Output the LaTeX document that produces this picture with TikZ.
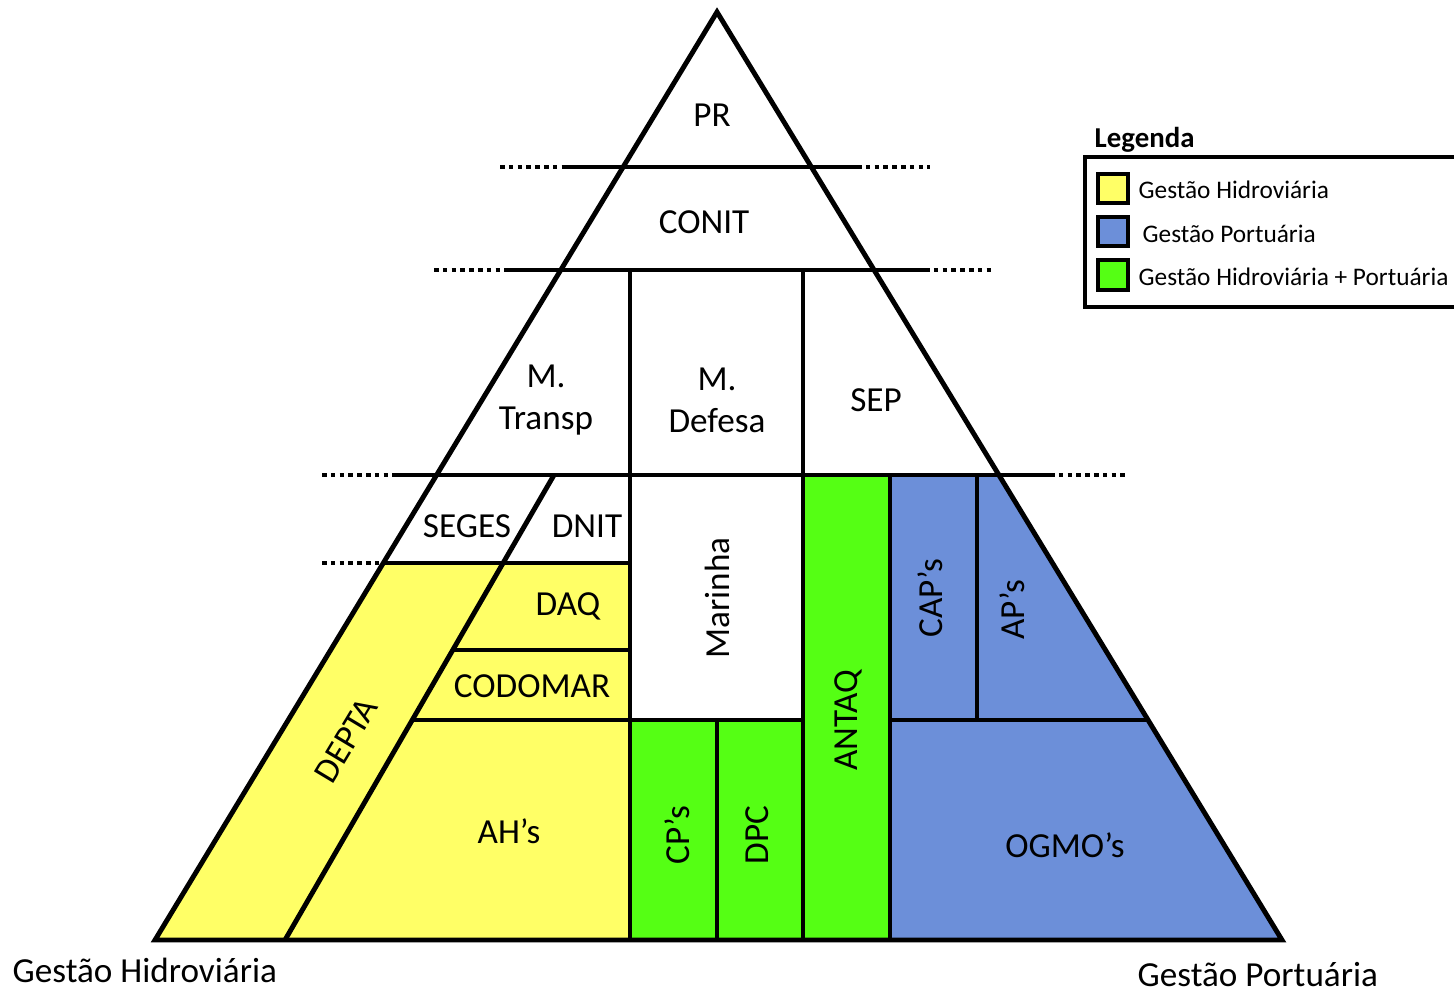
\documentclass[tikz,border=0pt]{standalone}
\usepackage{fontspec}
\setmainfont{Carlito}
\definecolor{hidro}{RGB}{255,255,102}
\definecolor{porto}{RGB}{108,143,217}
\definecolor{ambos}{RGB}{85,255,20}
\tikzset{
	lin/.style={line width=1.4pt},
	dotl/.style={line width=1.4pt, dash pattern=on 1.3pt off 1.2pt},
	lbl/.style={font=\fontsize{10}{12}\selectfont, align=center, inner sep=0pt},
	leg/.style={font=\fontsize{7.2}{9}\selectfont, anchor=west, inner sep=0pt},
	swatch/.style={draw, line width=1pt},
}
\begin{document}
\begin{tikzpicture}[x=0.01cm,y=-0.01cm]
			\useasboundingbox (0,0) rectangle (1454,993);
	
			\fill[hidro] (383,563)--(630,563)--(630,940)--(155,940)--cycle;
			\fill[ambos] (630,720) rectangle (803,940);
			\fill[ambos] (803,475) rectangle (890,940);
			\fill[porto] (890,475)--(999,475)--(1282,940)--(890,940)--cycle;
	
			\draw[lin] (717,12)--(1282,940)--(155,940)--cycle;
			\draw[lin] (566,167)--(857,167);
			\draw[dotl] (500,167)--(566,167);
			\draw[dotl] (857,167)--(930,167);
			\draw[lin] (505,270)--(925,270);
			\draw[dotl] (434,270)--(505,270);
			\draw[dotl] (925,270)--(992,270);
			\draw[lin] (393,475)--(1050,475);
			\draw[dotl] (322,475)--(393,475);
			\draw[dotl] (1050,475)--(1127,475);
			\draw[lin] (383,563)--(630,563);
			\draw[dotl] (322,563)--(395,563);
			\draw[lin] (630,270)--(630,940);
			\draw[lin] (803,270)--(803,940);
			\draw[lin] (554,475)--(285,940);
			\draw[lin] (453,650)--(630,650);
			\draw[lin] (412,720)--(803,720);
			\draw[lin] (717,720)--(717,940);
			\draw[lin] (890,475)--(890,940);
			\draw[lin] (977,475)--(977,720);
			\draw[lin] (890,720)--(1148,720);
	
			\node[lbl] (PR) at (712,115) {PR};
			\node[lbl] (CONIT) at (704,222) {CONIT};
			\node[lbl] (MT) at (546,400) {M.\\Transp};
			\node[lbl] (MD) at (717,400) {M.\\Defesa};
			\node[lbl] (SEP) at (876,400) {SEP};
			\node[lbl] (SEGES) at (467,526) {SEGES};
			\node[lbl] (DNIT) at (587,526) {DNIT};
			\node[lbl] (DAQ) at (568,606) {DAQ};
			\node[lbl] (CODOMAR) at (532,686) {CODOMAR};
			\node[lbl,rotate=90] (MAR) at (717,598) {Marinha};
			\node[lbl,rotate=59] (DEPTA) at (346,740) {DEPTA};
			\node[lbl] (AH) at (509,831) {AH’s};
			\node[lbl,rotate=90] (CP) at (677,835) {CP’s};
			\node[lbl,rotate=90] (DPC) at (757,835) {DPC};
			\node[lbl,rotate=90] (ANTAQ) at (848,720) {ANTAQ};
			\node[lbl,rotate=90] (CAP) at (930,598) {CAP’s};
			\node[lbl,rotate=90] (AP) at (1012,610) {AP’s};
			\node[lbl] (OGMO) at (1065,845) {OGMO’s};
	
			\node[lbl,anchor=west] (GH) at (12,970) {Gestão Hidroviária};
			\node[lbl,anchor=west] (GP) at (1137,975) {Gestão Portuária};
	
			\node[font=\fontsize{8.2}{10}\selectfont\bfseries, anchor=west, inner sep=0pt] (LEG) at (1094,140) {Legenda};
			\draw[line width=1.2pt] (1470,157)--(1085,157)--(1085,307)--(1470,307);
			\draw[swatch,fill=hidro] (1098,174) rectangle (1128,203);
			\draw[swatch,fill=porto] (1098,217) rectangle (1128,246);
			\draw[swatch,fill=ambos] (1098,260) rectangle (1128,290);
			\node[leg] (L1) at (1138,190) {Gestão Hidroviária};
			\node[leg] (L2) at (1142,234) {Gestão Portuária};
			\node[leg] (L3) at (1138,277) {Gestão Hidroviária + Portuária};
		\end{tikzpicture}
\end{document}
